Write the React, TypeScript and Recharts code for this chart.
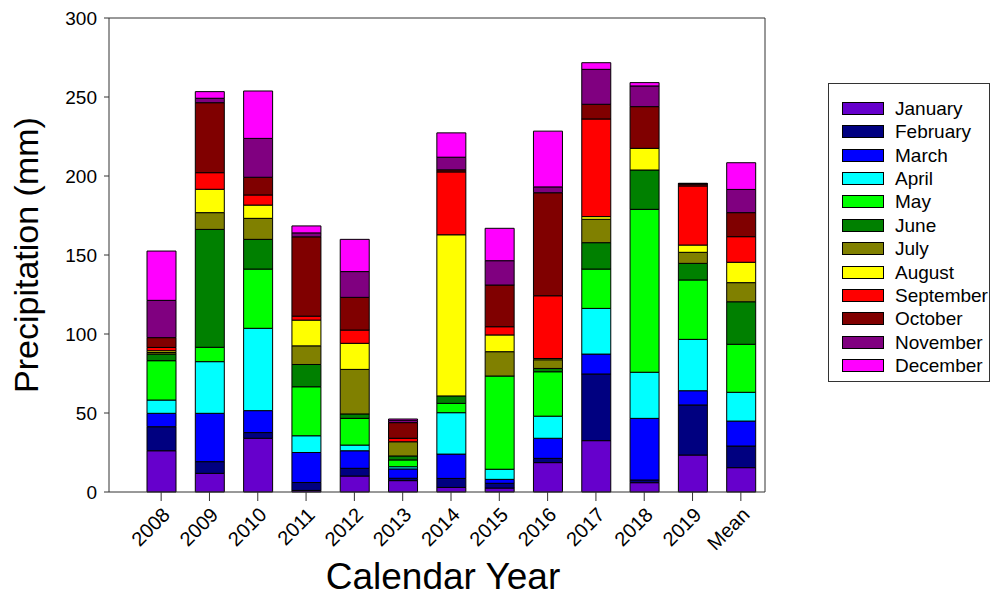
import React from 'react';
import { BarChart, Bar, XAxis, YAxis, Legend, ReferenceLine } from 'recharts';

const years = ['2008', '2009', '2010', '2011', '2012', '2013', '2014', '2015', '2016', '2017', '2018', '2019', 'Mean'];
const months = ['January', 'February', 'March', 'April', 'May', 'June', 'July', 'August', 'September', 'October', 'November', 'December'];
const colors = ['#6600CC', '#000080', '#0000FF', '#00FFFF', '#00FF00', '#008000', '#808000', '#FFFF00', '#FF0000', '#800000', '#800080', '#FF00FF'];

const jan = [26.1, 11.8, 34, 1, 10.1, 7.2, 2.9, 2.5, 18.6, 32.5, 5.9, 23.4, 15.4];
const feb = [15.2, 7.4, 3.6, 5, 4.9, 1.5, 5.7, 3, 2.7, 42.2, 1.7, 31.7, 13.7];
const mar = [8.5, 30.6, 13.9, 19, 11.1, 5.9, 15.4, 2.5, 12.7, 12.6, 39, 9, 15.8];
const apr = [8.4, 32.7, 52.1, 10.6, 3.6, 1.4, 26.2, 6.4, 14, 28.9, 29.2, 32.5, 18.2];
const may = [24.9, 9.1, 37.5, 31, 16.9, 4.3, 5.9, 59, 28.1, 24.9, 103.1, 37.6, 30.4];
const jun = [4.2, 74.6, 18.8, 14.1, 2.8, 2.5, 4.7, 0, 2.1, 16.7, 24.9, 10.5, 26.9];
const jul = [1, 10.6, 13.3, 11.8, 28.2, 9, 0, 15.4, 5.5, 14.8, 0, 7, 12.1];
const aug = [1.1, 14.8, 8.4, 16.3, 16.5, 0, 102, 10.6, 0.8, 1.7, 13.7, 4.6, 12.9];
const sep = [2.1, 10.5, 6.4, 2.5, 8.4, 2.2, 39.8, 5.2, 39.7, 61.8, 0, 37.4, 16.2];
const oct = [6.2, 44.3, 11.2, 50.2, 20.7, 9.9, 1.3, 26.4, 65.2, 9.3, 26.4, 1.2, 15.2];
const nov = [23.6, 2.8, 24.6, 2.5, 16.3, 1.5, 8, 15.4, 3.7, 22.1, 13.1, 0.3, 14.7];
const dec = [31.2, 4.2, 30, 4.4, 20.4, 0.8, 15.4, 20.5, 35.3, 4.2, 2.1, 0.2, 16.9];

const series = [jan, feb, mar, apr, may, jun, jul, aug, sep, oct, nov, dec];
const yTicks = [0, 50, 100, 150, 200, 250, 300];
const yMax = 300;

const data = years.map((year, i) => {
  const row: Record<string, string | number> = { year };
  months.forEach((m, j) => {
    row[m] = series[j][i];
  });
  return row;
});

const FONT = '"Liberation Sans", Arial, Helvetica, sans-serif';
const AXIS = '#333';

const XTick = (props: any) => {
  const { x, y, payload } = props;
  const ax = x + 10;
  const ay = y + 13;
  return (
    <text x={ax} y={ay} transform={`rotate(-45, ${ax}, ${ay})`} textAnchor="end" fontSize={20} fontFamily={FONT} fill="#000">
      {payload.value}
    </text>
  );
};

const YTitle = (props: any) => {
  const vb = props.viewBox || { x: 49, y: 18, width: 60, height: 474 };
  const cx = vb.x - 11;
  const cy = vb.y + vb.height / 2;
  return (
    <text x={cx} y={cy} transform={`rotate(-90, ${cx}, ${cy})`} textAnchor="middle" fontSize={34} fontFamily={FONT} fill="#000">
      Precipitation (mm)
    </text>
  );
};

const XTitle = (props: any) => {
  const vb = props.viewBox || { x: 109, y: 492, width: 656, height: 60 };
  return (
    <text x={vb.x + vb.width / 2 + 6} y={vb.y + 97} textAnchor="middle" fontSize={37} fontFamily={FONT} fill="#000">
      Calendar Year
    </text>
  );
};

const LegendBox = () => (
  <div
    style={{
      width: 162,
      height: 299,
      boxSizing: 'border-box',
      border: `1px solid ${AXIS}`,
      background: '#fff',
      paddingTop: 12.6,
      fontFamily: FONT,
    }}
  >
    {months.map((m, i) => (
      <div key={m} style={{ display: 'flex', alignItems: 'center', height: 23.4 }}>
        <div
          style={{
            width: 42,
            height: 13,
            marginLeft: 13,
            background: colors[i],
            border: '1px solid #000',
            boxSizing: 'border-box',
          }}
        />
        <span style={{ marginLeft: 11, fontSize: 19, color: '#000', lineHeight: '23px', whiteSpace: 'nowrap' }}>{m}</span>
      </div>
    ))}
  </div>
);

export default function App() {
  return (
    <div style={{ position: 'absolute', left: 0, top: 0, width: 996, height: 598, background: '#fff' }}>
      <BarChart width={996} height={598} data={data} margin={{ top: 18, right: 230, bottom: 46, left: 49 }}>
        <XAxis
          dataKey="year"
          interval={0}
          height={60}
          padding={{ left: 28, right: 0 }}
          tickSize={9}
          tickLine={{ stroke: AXIS }}
          axisLine={{ stroke: AXIS }}
          tick={<XTick />}
          label={{ content: <XTitle /> }}
        />
        <YAxis
          domain={[0, yMax]}
          ticks={yTicks}
          width={60}
          tickSize={5}
          tickMargin={7}
          tickLine={{ stroke: AXIS }}
          axisLine={{ stroke: AXIS }}
          tick={{ fontSize: 19, fill: '#000', fontFamily: FONT }}
          label={{ content: <YTitle /> }}
        />
        <YAxis
          yAxisId="right"
          orientation="right"
          domain={[0, yMax]}
          width={1}
          tick={false}
          tickLine={false}
          axisLine={{ stroke: AXIS }}
        />
        <ReferenceLine y={yMax} stroke={AXIS} strokeWidth={1} ifOverflow="extendDomain" />
        <Legend
          layout="vertical"
          align="center"
          verticalAlign="middle"
          content={<LegendBox />}
          wrapperStyle={{ left: 828, top: 83, width: 162, height: 299 }}
        />
        {months.map((m, i) => (
          <Bar
            key={m}
            dataKey={m}
            stackId="a"
            fill={colors[i]}
            stroke="#000"
            strokeWidth={1}
            barSize={29}
            isAnimationActive={false}
          />
        ))}
      </BarChart>
    </div>
  );
}
